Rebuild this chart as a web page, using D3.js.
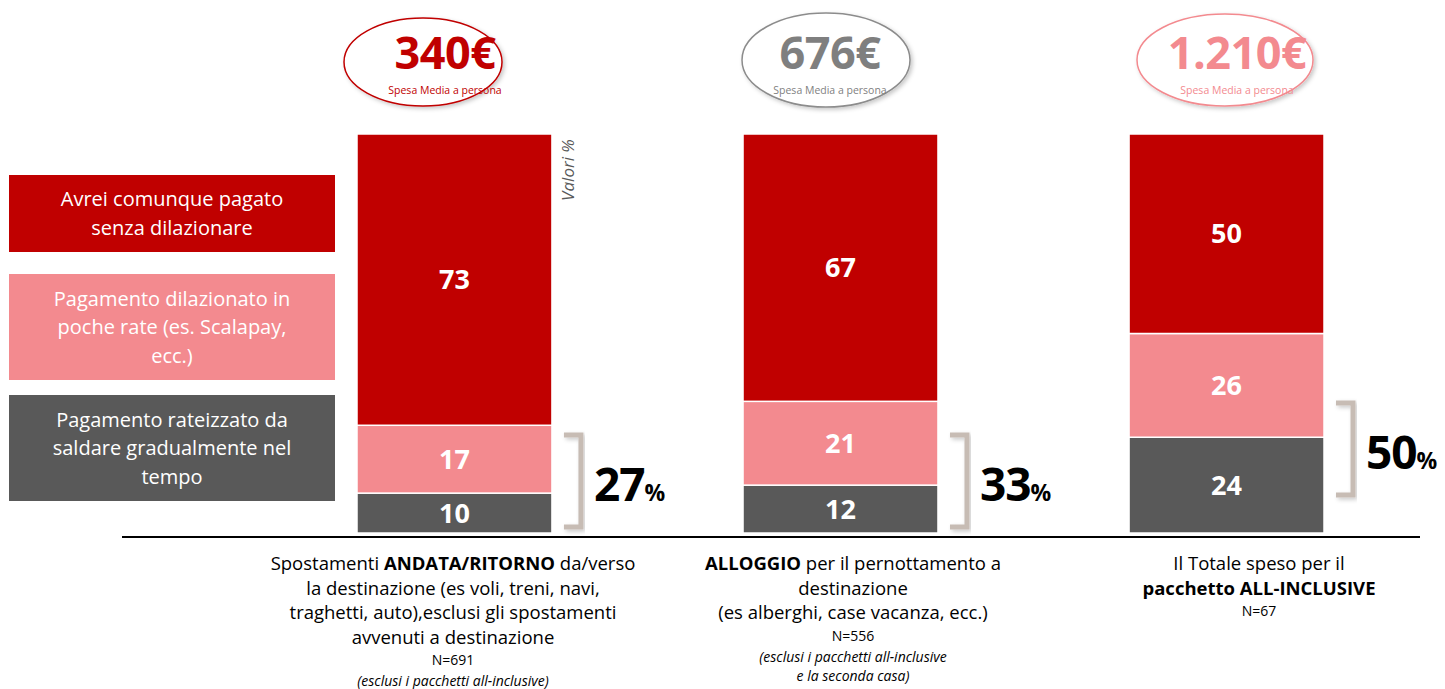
<!DOCTYPE html>
<html>
<head>
<meta charset="utf-8">
<style>
  body { margin: 0; background: #fff; }
  svg { font-family: "Open Sans", Lato, sans-serif; }
</style>
</head>
<body>
<script src="https://d3js.org/d3.v7.min.js"></script>
<script>
const categories = ["andata", "alloggio", "allinclusive"]
const seriesNames = ["Avrei comunque pagato senza dilazionare", "Pagamento dilazionato in poche rate (es. Scalapay, ecc.)", "Pagamento rateizzato da saldare gradualmente nel tempo"]
const senzaDilazione = [73, 67, 50]
const pocheRate = [17, 21, 26]
const rateizzato = [10, 12, 24]
const dilazionatoTot = ["27", "33", "50"]
const spesaMedia = ["340€", "676€", "1.210€"]
const sampleN = ["N=691", "N=556", "N=67"]

const w = 1445
const h = 689
const colors = ["#C00000", "#F38A8F", "#595959"]

const svg = d3.select("body").append("svg").attr("width", w).attr("height", h)

const defs = svg.append("defs")
const sh = defs.append("filter").attr("id", "shadow").attr("x", "-20%").attr("y", "-20%").attr("width", "140%").attr("height", "140%")
sh.append("feDropShadow").attr("dx", 2).attr("dy", 2).attr("stdDeviation", 2).attr("flood-color", "#000").attr("flood-opacity", 0.22)

const x = d3.scaleBand().domain(categories).range([357, 1324]).paddingInner(0.495).paddingOuter(0)
const y = d3.scaleLinear().domain([0, 100]).range([533, 134])

// stack the three series, bottom to top
const rows = categories.map((c, i) => ({ cat: c, s0: rateizzato[i], s1: pocheRate[i], s2: senzaDilazione[i] }))
const stack = d3.stack().keys(["s0", "s1", "s2"])(rows)
const colorOf = { s0: colors[2], s1: colors[1], s2: colors[0] }

stack.forEach(layer => {
  const g = svg.append("g")
  g.selectAll("rect").data(layer).enter().append("rect")
    .attr("x", d => x(d.data.cat))
    .attr("y", d => y(d[1]))
    .attr("width", x.bandwidth())
    .attr("height", d => y(d[0]) - y(d[1]))
    .attr("fill", colorOf[layer.key])
    .attr("stroke", "#fff")
    .attr("stroke-width", 1.5)
  g.selectAll("text").data(layer).enter().append("text")
    .attr("x", d => x(d.data.cat) + x.bandwidth() / 2)
    .attr("y", d => (y(d[0]) + y(d[1])) / 2)
    .attr("dy", "0.36em")
    .attr("text-anchor", "middle")
    .attr("fill", "#fff")
    .attr("font-weight", "bold")
    .attr("font-size", 27)
    .text(d => d[1] - d[0])
})

// baseline
svg.append("line").attr("x1", 122).attr("x2", 1420).attr("y1", y(0) + 4).attr("y2", y(0) + 4)
  .attr("stroke", "#000").attr("stroke-width", 2)

// brackets with total of dilazionato (offset of bracket above the baseline, in px)
const bracketLift = [3, 3, 35]
categories.forEach((c, i) => {
  const bx = x(c) + x.bandwidth() + 12
  const bot = y(0) - 3 - bracketLift[i]
  const top = bot - 92
  svg.append("path")
    .attr("d", `M${bx},${top} H${bx + 17} V${bot} H${bx}`)
    .attr("fill", "none").attr("stroke", "#C7BCB4").attr("stroke-width", 5)
    .attr("filter", "url(#shadow)")
  const t = svg.append("text")
    .attr("x", bx + 30).attr("y", top + 66)
    .attr("font-weight", "bold").attr("fill", "#000")
  t.append("tspan").attr("font-size", 46).attr("letter-spacing", -1).text(dilazionatoTot[i])
  t.append("tspan").attr("font-size", 23).text("%")
})

// ovals with average spend
const ovals = [
  { cx: 423, cy: 62, rx: 79, ry: 44, stroke: "#C00000", fill: "#C00000" },
  { cx: 826, cy: 60, rx: 84, ry: 47, stroke: "#8C8C8C", fill: "#7F7F7F" },
  { cx: 1225, cy: 60, rx: 88, ry: 46, stroke: "#F38A8F", fill: "#F38A8F" }
]
const textX = [445, 830, 1237]
ovals.forEach((o, i) => {
  svg.append("ellipse").attr("cx", o.cx).attr("cy", o.cy).attr("rx", o.rx).attr("ry", o.ry)
    .attr("fill", "#fff").attr("stroke", o.stroke).attr("stroke-width", 1.5).attr("filter", "url(#shadow)")
  svg.append("text").attr("x", textX[i]).attr("y", 69).attr("text-anchor", "middle")
    .attr("font-weight", "bold").attr("font-size", 45).attr("letter-spacing", -0.5).attr("fill", o.fill).text(spesaMedia[i])
  svg.append("text").attr("x", textX[i]).attr("y", 94).attr("text-anchor", "middle")
    .attr("font-size", 10.5).attr("fill", o.fill).text("Spesa Media a persona")
})

// Valori %
svg.append("text").attr("transform", "translate(574,170) rotate(-90)")
  .attr("text-anchor", "middle").attr("font-style", "italic").attr("font-size", 17).attr("fill", "#595959")
  .text("Valori %")

// legend boxes
const legendBoxes = [
  { y: 175, h: 77, lines: ["Avrei comunque pagato", "senza dilazionare"] },
  { y: 274, h: 106, lines: ["Pagamento dilazionato in", "poche rate (es. Scalapay,", "ecc.)"] },
  { y: 395, h: 106, lines: ["Pagamento rateizzato da", "saldare gradualmente nel", "tempo"] }
]
legendBoxes.forEach((b, i) => {
  svg.append("rect").attr("x", 9).attr("y", b.y).attr("width", 326).attr("height", b.h).attr("fill", colors[i])
  const n = b.lines.length
  b.lines.forEach((l, j) => {
    svg.append("text").attr("x", 172).attr("y", b.y + b.h / 2 + (j - (n - 1) / 2) * 28.5)
      .attr("dy", "0.35em").attr("text-anchor", "middle").attr("fill", "#fff").attr("font-size", 20)
      .text(l)
  })
})

// category labels
const labels = [
  { cx: 453, lines: [
    [["Spostamenti ", ""], ["ANDATA/RITORNO", "b"], [" da/verso", ""]],
    [["la destinazione (es voli, treni, navi,", ""]],
    [["traghetti, auto),esclusi gli spostamenti", ""]],
    [["avvenuti a destinazione", ""]]
  ], n: sampleN[0], notes: ["(esclusi i pacchetti all-inclusive)"] },
  { cx: 853, lines: [
    [["ALLOGGIO", "b"], [" per il pernottamento a", ""]],
    [["destinazione", ""]],
    [["(es alberghi, case vacanza, ecc.)", ""]]
  ], n: sampleN[1], notes: ["(esclusi i pacchetti all-inclusive", "e la seconda casa)"] },
  { cx: 1259, lines: [
    [["Il Totale speso per il", ""]],
    [["pacchetto ALL-INCLUSIVE", "b"]]
  ], n: sampleN[2], notes: [] }
]
labels.forEach(lb => {
  let yy = 570
  lb.lines.forEach(parts => {
    const t = svg.append("text").attr("x", lb.cx).attr("y", yy).attr("text-anchor", "middle")
      .attr("font-size", 18.5).attr("fill", "#000")
    parts.forEach(p => t.append("tspan").attr("font-weight", p[1] === "b" ? "bold" : "normal").text(p[0]))
    yy += 24.5
  })
  yy -= 3
  svg.append("text").attr("x", lb.cx).attr("y", yy).attr("text-anchor", "middle")
    .attr("font-size", 14).attr("fill", "#000").text(lb.n)
  yy += 21
  lb.notes.forEach(nt => {
    svg.append("text").attr("x", lb.cx).attr("y", yy).attr("text-anchor", "middle")
      .attr("font-size", 14).attr("font-style", "italic").attr("fill", "#000").text(nt)
    yy += 19
  })
})
</script>
</body>
</html>
